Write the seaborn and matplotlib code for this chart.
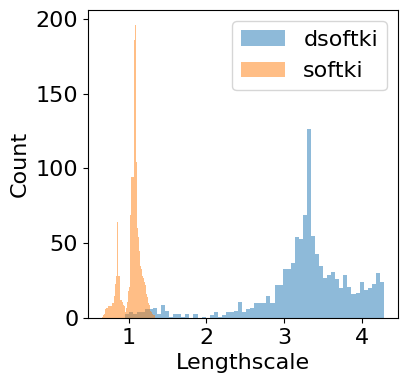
import numpy as np
import pandas as pd
import matplotlib
matplotlib.use("Agg")
import matplotlib.pyplot as plt
import seaborn as sns
from matplotlib.patches import Patch

# ---- data (histogram counts) ----
series_names = ["dsoftki", "softki"]

dsoftki_range = (0.949, 4.282)
dsoftki_counts = [3, 4, 3, 4, 4, 6, 6, 7, 3, 9,
                  5, 1, 3, 3, 1, 3, 0, 3, 0, 1,
                  0, 2, 4, 1, 2, 4, 4, 5, 11, 4,
                  6, 7, 10, 10, 10, 15, 10, 22, 22, 33,
                  33, 37, 54, 53, 69, 126, 55, 43, 35, 27,
                  29, 31, 26, 20, 29, 21, 16, 17, 24, 19,
                  20, 23, 30, 24]

softki_range = (0.660, 1.346)
softki_counts = [1, 2, 3, 4, 6, 7, 7, 8, 8, 15,
                 8, 8, 10, 10, 15, 20, 23, 28, 64, 28,
                 28, 20, 12, 12, 11, 9, 8, 5, 4, 7,
                 11, 18, 21, 69, 69, 94, 94, 94, 186, 195,
                 196, 104, 60, 54, 45, 38, 35, 33, 28, 27,
                 24, 24, 22, 16, 14, 10, 9, 6, 5, 4,
                 3, 2, 2, 1]

x_label = "Lengthscale"
y_label = "Count"
y_ticks = [0, 50, 100, 150, 200]
x_ticks = [1, 2, 3, 4]

colors = ["#1f77b4", "#ff7f0e"]

plt.rcParams["font.size"] = 16

fig = plt.figure(figsize=(4.07, 3.83), dpi=100)
ax = fig.add_axes([88 / 407, 1 - 318 / 383, (398 - 88) / 407, (318 - 10) / 383])

for name, rng, counts, col in [
    (series_names[0], dsoftki_range, dsoftki_counts, colors[0]),
    (series_names[1], softki_range, softki_counts, colors[1]),
]:
    edges = np.linspace(rng[0], rng[1], len(counts) + 1)
    centers = (edges[:-1] + edges[1:]) / 2
    df = pd.DataFrame({"value": centers, "count": np.asarray(counts, dtype=float)})
    sns.histplot(data=df, x="value", weights="count", bins=edges.tolist(), color=col,
                 alpha=0.5, linewidth=0, edgecolor="none", ax=ax)

ax.set_xlabel(x_label, fontsize=16)
ax.set_ylabel(y_label, fontsize=16)
ax.set_xticks(x_ticks)
ax.set_yticks(y_ticks)
ax.tick_params(labelsize=16)

handles = [Patch(facecolor=c, alpha=0.5, edgecolor="none") for c in colors]
ax.legend(handles, series_names, loc="upper right", fontsize=16)

fig.savefig("out.png", dpi=100)
